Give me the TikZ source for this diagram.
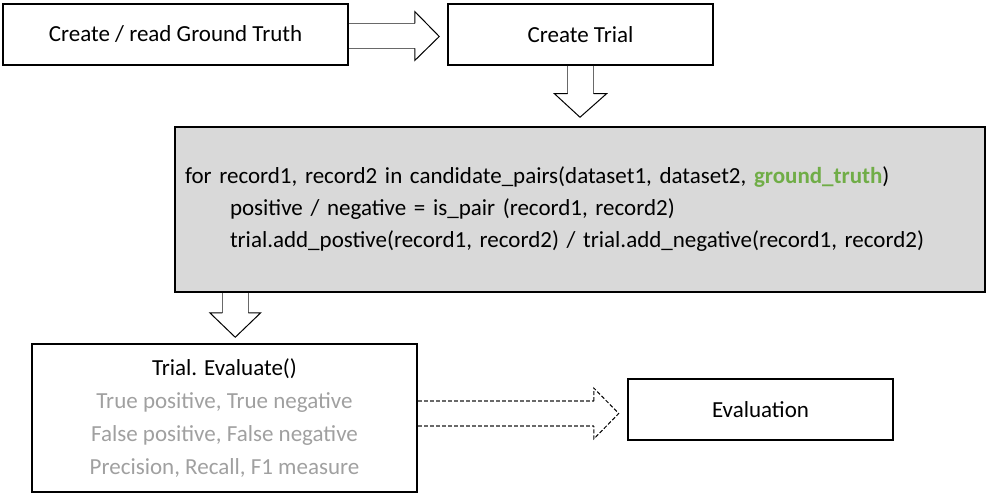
\documentclass[tikz,border=0pt]{standalone}
\usepackage{fontspec}
\setmainfont{Carlito}
\usetikzlibrary{calc}
\definecolor{truthGreen}{RGB}{112,173,71}
\definecolor{loopGray}{RGB}{217,217,217}
\definecolor{noteGray}{RGB}{160,160,160}
\definecolor{shaftGray}{RGB}{105,105,105}

\begin{document}
\begin{tikzpicture}[x=1pt, y=-1pt,
  box/.style={draw, line width=1.5pt, inner sep=0pt, font=\fontsize{23}{32}\selectfont},
  shaft/.style={shaftGray, line width=1.5pt},
  head/.style={black, line width=1pt, line join=miter},
  dashy/.style={dash pattern=on 4pt off 2pt}]
\useasboundingbox (0,0) rectangle (994,500);

\node[box, minimum width=345pt, minimum height=61pt] (truth) at (175.5,34.5) {Create / read Ground Truth};
\node[box, minimum width=265pt, minimum height=61pt] (create) at (580.5,34.5) {Create Trial};

\node[box, fill=loopGray, minimum height=165pt, text width=790pt, inner xsep=10pt, align=left] (loop) at (580,209.5)
  {for record1, record2 in candidate\_pairs(dataset1, dataset2, \textbf{\color{truthGreen}ground\_truth})\\
   \hspace*{45pt}positive / negative = is\_pair (record1, record2)\\
   \hspace*{45pt}trial.add\_postive(record1, record2) / trial.add\_negative(record1, record2)};

\node[box, minimum width=385pt, minimum height=148pt, align=center, font=\fontsize{23}{33}\selectfont] (result) at (224.5,418)
  {Trial. Evaluate()\\
   {\color{noteGray}True positive, True negative}\\
   {\color{noteGray}False positive, False negative}\\
   {\color{noteGray}Precision, Recall, F1 measure}};

\node[box, minimum width=265pt, minimum height=61pt] (evaluation) at (760.5,409.5) {Evaluation};

% truth -> create
\draw[shaft] ($(truth.east)+(0,-11)$) -- ++(66,0) ($(truth.east)+(0,14)$) -- ++(66,0);
\draw[head] ($(truth.east)+(66,-11)$) -- ++(0,-12) -- ($(create.west)+(-8,2)$) -- ($(truth.east)+(66,26)$) -- ++(0,-12);

% create -> loop
\draw[shaft] ($(create.south)+(-13,0)$) -- ++(0,28) ($(create.south)+(13,0)$) -- ++(0,28);
\draw[head] ($(create.south)+(-13,28)$) -- ++(-13,0) -- ($(loop.north)+(0,-9)$) -- ($(create.south)+(26,28)$) -- ++(-13,0);

% loop -> result
\coordinate (split) at ($(loop.south west)+(61,0)$);
\draw[shaft] ($(split)+(-13,0)$) -- ++(0,20) ($(split)+(13,0)$) -- ++(0,20);
\draw[head] ($(split)+(-13,20)$) -- ++(-12.5,0) -- ($(split |- result.north)+(0,-6)$) -- ($(split)+(25.5,20)$) -- ++(-12.5,0);

% result -> evaluation
\coordinate (out) at ($(result.east)+(0,-4.5)$);
\draw[shaft, line width=1.2pt, dashy] ($(out)+(0,-12.5)$) -- ++(176,0) ($(out)+(0,12.5)$) -- ++(176,0);
\draw[head, dashy] ($(out)+(176,-12.5)$) -- ++(0,-13) -- ($(out)+(201,0)$) -- ($(out)+(176,25.5)$) -- ++(0,-13);

\end{tikzpicture}
\end{document}
